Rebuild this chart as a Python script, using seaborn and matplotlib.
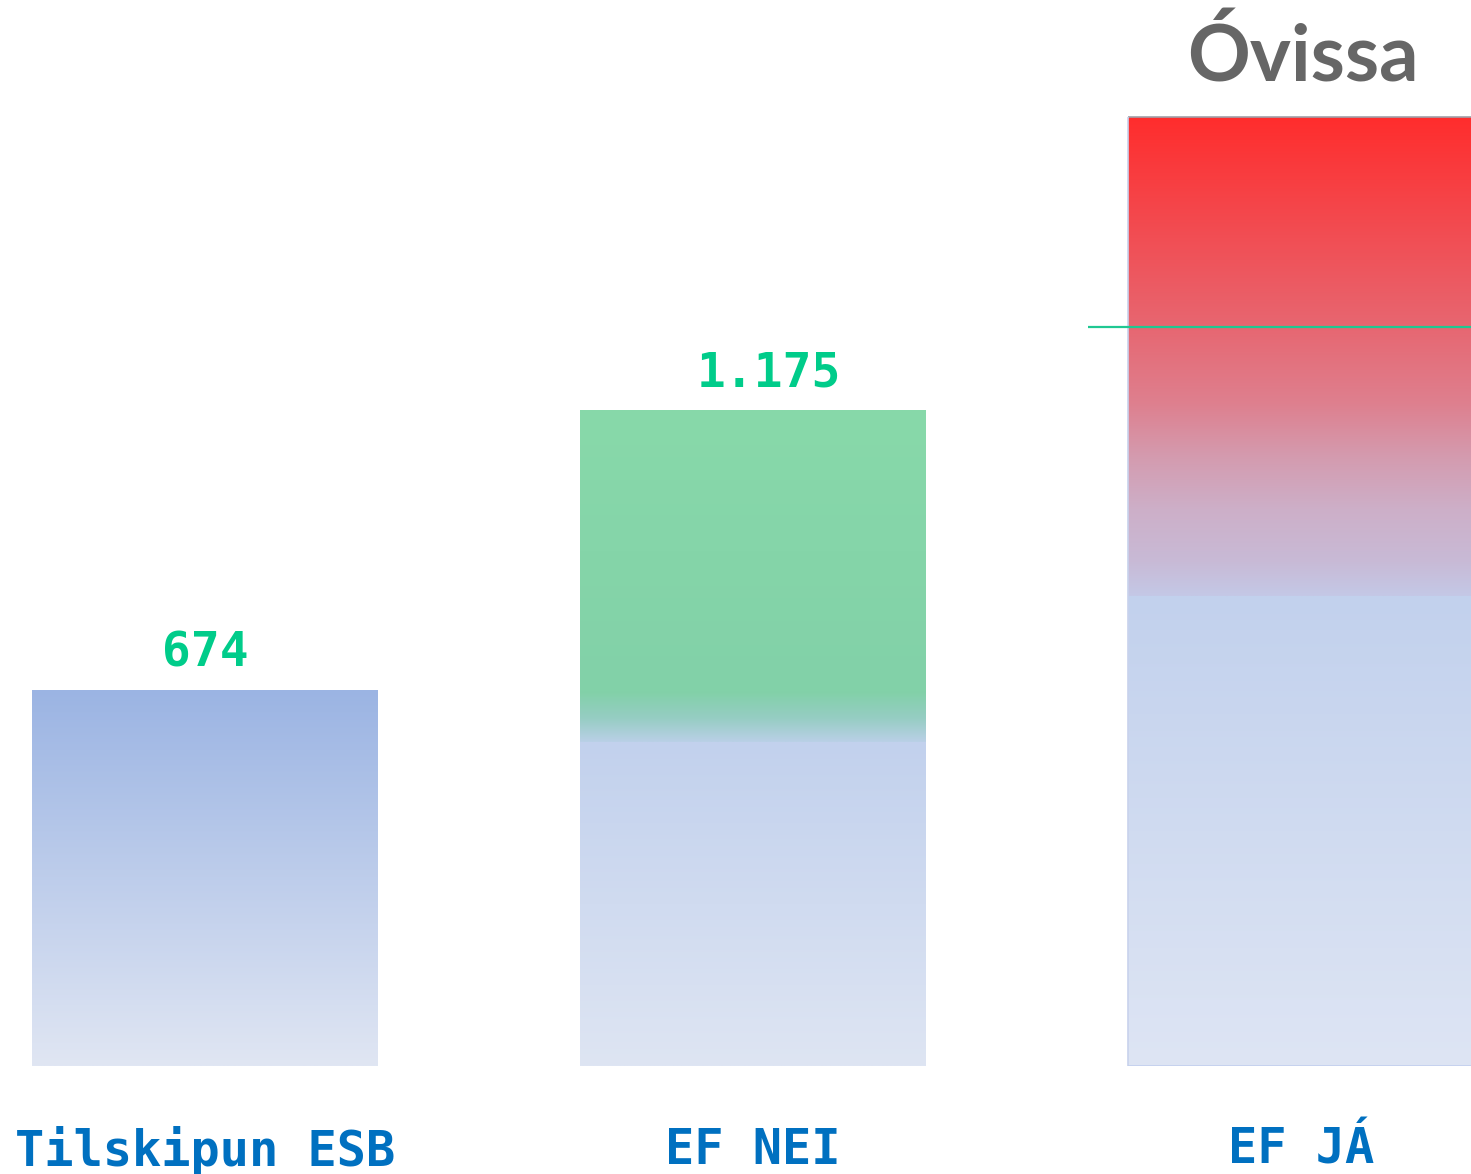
import numpy as np
import matplotlib
matplotlib.use("Agg")
import matplotlib.pyplot as plt
from matplotlib.colors import LinearSegmentedColormap
import seaborn as sns

# data
categories = ["Tilskipun ESB", "EF NEI", "EF JÁ"]
totals = [674, 1175, 1700]          # full bar height
base_part = [674, 580, 842]         # lower (blue) segment
value_labels = ["674", "1.175", ""]
uncertain_label = "Óvissa"
threshold = 1325                    # green marker on the last bar

sns.set_style("white")

# gradient stops per segment (top -> bottom)
BASE_GRADIENTS = [
    [(155, 180, 227), (224, 230, 243)],
    [(194, 209, 237), (222, 229, 243)],
    [(194, 209, 237), (222, 229, 244)],
]
TOP_GRADIENTS = [
    None,
    [(0.0, (136, 217, 170)), (0.85, (130, 209, 168)), (0.93, (150, 205, 195)),
     (1.0, (185, 208, 230))],
    [(0.0, (255, 45, 45)), (0.42, (232, 100, 110)), (0.6, (222, 128, 143)),
     (0.71, (212, 155, 175)), (0.82, (205, 175, 200)), (0.93, (200, 186, 214)),
     (1.0, (196, 200, 230))],
]


def make_cmap(stops):
    if not isinstance(stops[0][0], float):
        n = len(stops)
        stops = [(i / (n - 1), c) for i, c in enumerate(stops)]
    return LinearSegmentedColormap.from_list(
        "g", [(p, tuple(v / 255 for v in c)) for p, c in stops])


def fill_gradient(ax, patch, y0, y1, stops):
    x0 = patch.get_x()
    w = patch.get_width()
    grad = np.linspace(0, 1, 256).reshape(-1, 1)
    img = ax.imshow(grad, cmap=make_cmap(stops), aspect="auto",
                    extent=[x0, x0 + w, y0, y1], origin="upper",
                    interpolation="bilinear", zorder=2)
    img.set_clip_path(patch)


fig = plt.figure(figsize=(14.71, 11.74), dpi=100)
ax = fig.add_axes([0, 108 / 1174, 1, 1066 / 1174])

sns.barplot(x=categories, y=totals, width=0.631, color="white", ax=ax,
            linewidth=0, saturation=1)
sns.barplot(x=categories, y=base_part, width=0.631, color="white", ax=ax,
            linewidth=0, saturation=1)

top_patches = ax.patches[:3]
base_patches = ax.patches[3:6]
for i in range(3):
    top_patches[i].set_facecolor("none")
    base_patches[i].set_facecolor("none")
    if TOP_GRADIENTS[i] is not None:
        fill_gradient(ax, top_patches[i], base_part[i], totals[i], TOP_GRADIENTS[i])
    fill_gradient(ax, base_patches[i], 0, base_part[i], BASE_GRADIENTS[i])

# thin border round the last bar
p = top_patches[2]
ax.hlines(totals[2], p.get_x(), p.get_x() + p.get_width(), color="#a0a0a8",
          linewidth=1.2, zorder=3)
ax.vlines(p.get_x(), 0, totals[2], color="#c8d2ec", linewidth=1.2, zorder=3)
ax.hlines(0, p.get_x(), p.get_x() + p.get_width(), color="#c2cfee",
          linewidth=1.2, zorder=3)

ax.hlines(threshold, p.get_x() - 0.073, p.get_x() + p.get_width(),
          color="#1fc892", linewidth=1.6, zorder=4)

labels = ax.bar_label(ax.containers[0], labels=value_labels, padding=10,
                      color="#00cc8a", fontsize=34.5, fontweight="bold",
                      family="DejaVu Sans Mono")
labels[1].xyann = (11, 10)  # the "1.175" label sits a bit right of centre

ax.annotate(uncertain_label, (2, totals[2]), xytext=(1.5, 26),
            textcoords="offset points", ha="center", va="baseline",
            fontsize=56, fontweight="bold", family="Lato", color="#666666")

ax.set_xlim(-0.374, 2.310)
ax.set_ylim(0, 1066 / 0.558)
sns.despine(ax=ax, left=True, bottom=True)
ax.set_yticks([])
ax.set_ylabel("")
ax.tick_params(axis="x", length=0, pad=43, labelsize=35, labelcolor="#0070c0")
for lbl in ax.get_xticklabels():
    lbl.set_fontfamily("DejaVu Sans Mono")
    lbl.set_fontweight("bold")

fig.savefig("out.png", dpi=100)
